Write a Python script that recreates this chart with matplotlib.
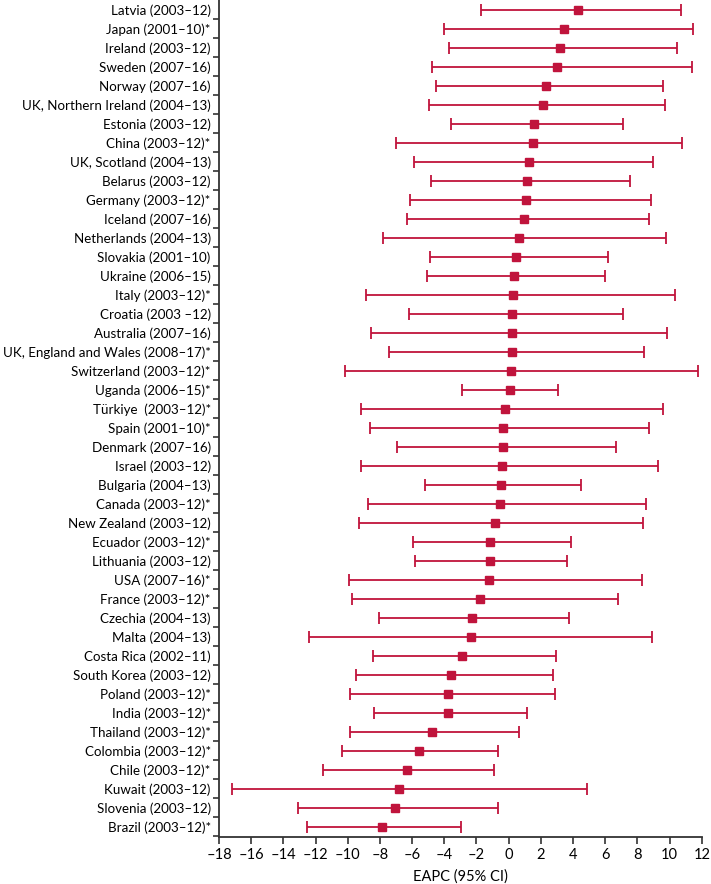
import numpy as np
import matplotlib
matplotlib.use('Agg')
import matplotlib.pyplot as plt
from matplotlib.ticker import FixedLocator

# data (top to bottom)
labels = [
    'Latvia (2003–12)', 'Japan (2001–10)*', 'Ireland (2003–12)', 'Sweden (2007–16)',
    'Norway (2007–16)', 'UK, Northern Ireland (2004–13)', 'Estonia (2003–12)',
    'China (2003–12)*', 'UK, Scotland (2004–13)', 'Belarus (2003–12)',
    'Germany (2003–12)*', 'Iceland (2007–16)', 'Netherlands (2004–13)',
    'Slovakia (2001–10)', 'Ukraine (2006–15)', 'Italy (2003–12)*', 'Croatia (2003 –12)',
    'Australia (2007–16)', 'UK, England and Wales (2008–17)*', 'Switzerland (2003–12)*',
    'Uganda (2006–15)*', 'Türkiye  (2003–12)*', 'Spain (2001–10)*', 'Denmark (2007–16)',
    'Israel (2003–12)', 'Bulgaria (2004–13)', 'Canada (2003–12)*', 'New Zealand (2003–12)',
    'Ecuador (2003–12)*', 'Lithuania (2003–12)', 'USA (2007–16)*', 'France (2003–12)*',
    'Czechia (2004–13)', 'Malta (2004–13)', 'Costa Rica (2002–11)', 'South Korea (2003–12)',
    'Poland (2003–12)*', 'India (2003–12)*', 'Thailand (2003–12)*', 'Colombia (2003–12)*',
    'Chile (2003–12)*', 'Kuwait (2003–12)', 'Slovenia (2003–12)', 'Brazil (2003–12)*',
]
eapc = [4.33, 3.43, 3.17, 2.98, 2.30, 2.11, 1.60, 1.49, 1.26, 1.15, 1.10, 0.93,
        0.62, 0.48, 0.31, 0.25, 0.22, 0.22, 0.20, 0.17, 0.08, -0.20, -0.34, -0.37,
        -0.39, -0.45, -0.51, -0.84, -1.15, -1.18, -1.21, -1.80, -2.28, -2.33, -2.92,
        -3.57, -3.74, -3.76, -4.75, -5.59, -6.32, -6.80, -7.05, -7.89]
ci_low = [-1.71, -3.99, -3.68, -4.78, -4.52, -4.97, -3.57, -6.99, -5.87, -4.83, -6.10, -6.29,
          -7.78, -4.89, -5.08, -8.88, -6.21, -8.57, -7.42, -10.20, -2.87, -9.16, -8.60, -6.91,
          -9.19, -5.17, -8.74, -9.27, -5.96, -5.84, -9.89, -9.72, -8.03, -12.42, -8.40,
          -9.47, -9.86, -8.37, -9.86, -10.37, -11.52, -17.19, -13.06, -12.50]
ci_high = [10.70, 11.43, 10.48, 11.38, 9.61, 9.69, 7.08, 10.76, 8.96, 7.56, 8.85, 8.71,
           9.80, 6.15, 6.01, 10.31, 7.13, 9.86, 8.40, 11.77, 3.06, 9.61, 8.71, 6.66,
           9.27, 4.49, 8.51, 8.34, 3.90, 3.65, 8.26, 6.77, 3.76, 8.88, 2.92,
           2.75, 2.87, 1.15, 0.62, -0.65, -0.90, 4.89, -0.65, -2.98]
xticks = list(range(-18, 13, 2))

plt.rcParams['font.family'] = ['Lato', 'DejaVu Sans']
col = '#C0143C'

n = len(labels)
y = np.arange(n)[::-1]
eapc = np.array(eapc)
err = [eapc - np.array(ci_low), np.array(ci_high) - eapc]

fig = plt.figure(figsize=(7.11, 8.84), dpi=100)
ax = fig.add_axes([0.308, 0.0532, 0.679, 0.9468])
ax.errorbar(eapc, y, xerr=err, fmt='s', color=col, ecolor=col, elinewidth=1.3,
            capsize=4, capthick=1.3, markersize=6)

ax.set_xlim(-18, 12)
ax.set_ylim(-0.55, n - 0.5)
ax.set_xticks(xticks)
ax.set_xticklabels([str(t).replace('-', '–') for t in xticks], fontsize=10.5)
ax.set_yticks(y)
ax.set_yticklabels(labels, fontsize=9.6)
ax.yaxis.set_minor_locator(FixedLocator(np.arange(n) - 0.5))
ax.tick_params(axis='y', which='major', length=0, pad=6)
ax.tick_params(axis='y', which='minor', length=4, width=1.2, color='#333333')
ax.tick_params(axis='x', length=5, width=1.2, color='#333333', pad=3)
for s in ['top', 'right']:
    ax.spines[s].set_visible(False)
for s in ['left', 'bottom']:
    ax.spines[s].set_linewidth(1.3)
    ax.spines[s].set_color('#333333')
ax.set_xlabel('EAPC (95% CI)', fontsize=10.5, labelpad=5)

plt.savefig('out.png', dpi=100)
